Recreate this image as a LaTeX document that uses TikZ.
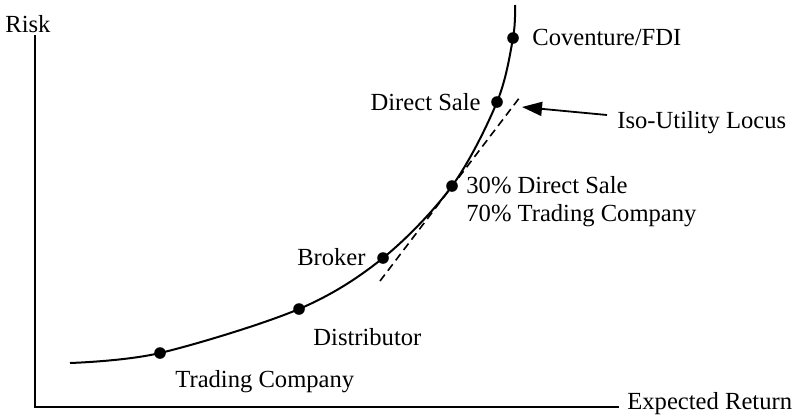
\documentclass[tikz,border=0pt]{standalone}
\usepackage{fontspec}
\setmainfont{Liberation Serif}
\usetikzlibrary{arrows.meta, positioning}
\tikzset{
  pto/.style = {circle, fill=black, inner sep=0pt, minimum size=5.8pt},
  rot/.style = {inner sep=0pt, font=\fontsize{12.3}{14}\selectfont, align=left},
  eixo/.style = {draw=black, line width=1.3pt},
  curva/.style = {draw=black, line width=1pt},
  tang/.style = {draw=black, line width=0.8pt, dash pattern=on 4pt off 2.5pt},
  seta/.style = {-{Triangle[length=10pt, width=7pt]}, line width=0.9pt}
}

\begin{document}
\begin{tikzpicture}[x=0.5pt, y=-0.5pt]
  \useasboundingbox (0,0) rectangle (796,418);
  % eixos
  \coordinate (o) at (35,407);
  \coordinate (ytop) at (35,35);
  \coordinate (xend) at (619,407);
  \draw [eixo] (ytop) -- (o) -- (xend);
  \node [rot, anchor=base west] (risco) at (5,32) {Risk};
  \node [rot, anchor=base west] (retorno) at (627,409) {Expected Return};
  % pontos da curva
  \coordinate (c0) at (70,363);
  \coordinate (c7) at (515,5);
  \node [pto] (tc) at (160,353) {};
  \node [pto] (dist) at (299,309) {};
  \node [pto] (brok) at (383,258) {};
  \node [pto] (mix) at (452,186) {};
  \node [pto] (ds) at (497,102) {};
  \node [pto] (fdi) at (513,38) {};
  \draw [curva] plot [smooth, tension=0.55] coordinates
    {(c0) (tc.center) (dist.center) (brok.center) (mix.center) (ds.center)
     (fdi.center) (c7)};
  % tangente
  \coordinate (t1) at (380,281);
  \coordinate (t2) at (520,97);
  \draw [tang] (t1) -- (t2);
  % rotulos
  \node [rot, anchor=base west] (lfdi) at (532,45) {Coventure/FDI};
  \node [rot, anchor=base east] (lds) at (481,110) {Direct Sale};
  \node [rot, anchor=base west] (liso) at (617,128) {Iso-Utility Locus};
  \node [rot, anchor=base west] (lmix) at (466,221) {30\% Direct Sale\\70\% Trading Company};
  \node [rot, anchor=base east] (lbrok) at (366,265) {Broker};
  \node [rot, anchor=base west] (ldist) at (313,345) {Distributor};
  \node [rot, anchor=base west] (ltc) at (175,387) {Trading Company};
  \coordinate (ponta) at (522,107);
  \draw [seta] (liso.west |- 0,115) ++(-10,0) coordinate (cauda) (cauda) -- (ponta);
\end{tikzpicture}
\end{document}
